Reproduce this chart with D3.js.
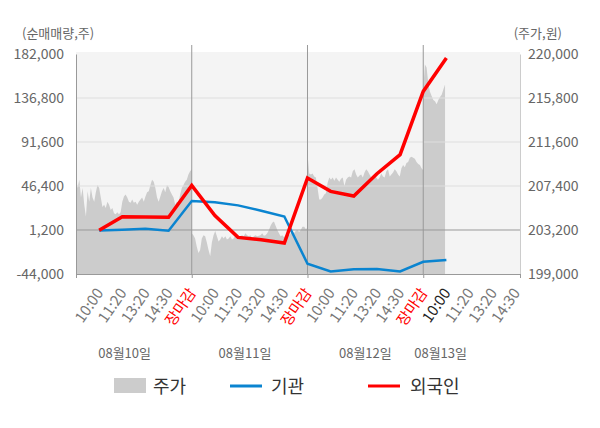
<!DOCTYPE html>
<html>
<head>
<meta charset="utf-8">
<title>순매매량 / 주가</title>
<style>
  body, html { margin: 0; padding: 0; background: #fff; }
  text { font-family: "Noto Sans CJK KR", "Noto Sans", sans-serif; }
</style>
</head>
<body>
<svg id="svg" width="600" height="428"></svg>

<script src="https://d3js.org/d3.v7.min.js"></script>
<script>
  // ---- data ----
  const dayNames = ['08월10일', '08월11일', '08월12일', '08월13일']
  const dayTimes = [
    ['10:00', '11:20', '13:20', '14:30', '장마감'],
    ['10:00', '11:20', '13:20', '14:30', '장마감'],
    ['10:00', '11:20', '13:20', '14:30', '장마감'],
    ['10:00', '11:20', '13:20', '14:30']
  ]
  // where the date captions sit, in time slots
  const dayLabelSlots = [2.1, 7.3, 12.5, 15.75]

  // net buying (주), one value per time slot 1..16
  const flowSlots = [1, 2, 3, 4, 5, 6, 7, 8, 9, 10, 11, 12, 13, 14, 15, 16]
  const institution = [700, 1500, 2500, 500, 31000, 29800, 26500, 21000, 15000,
    -33400, -41300, -39000, -38800, -41300, -31500, -29500]
  const foreign = [900, 14800, 14600, 14300, 47000, 16000, -6400, -8800, -12200,
    54600, 40900, 36100, 59000, 78600, 143600, 177900]

  // share price (원), sampled through each trading day
  const priceDay1 = [208200, 207200, 208000, 206300, 207200, 205600, 204500, 206900, 205900, 207200,
    206300, 205900, 206800, 207500, 207200, 206300, 205400, 205600, 205300, 205900,
    205600, 205100, 205300, 204800, 204700, 204900, 204700, 204900, 205900, 206400,
    206600, 206300, 205900, 205800, 206100, 205800, 205900, 205600, 205900, 206100,
    206300, 205900, 206400, 206800, 206900, 207500, 208000, 207800, 207200, 206300,
    205900, 206400, 206900, 207200, 206800, 207500, 207300, 206900, 206600, 206300,
    205600, 205900, 205800, 206600, 207200, 207500, 207800, 208000, 208500, 208800, 209000]
  const priceDay2 = [202900, 202700, 202400, 201600, 201000, 201300, 202400, 202700, 202600, 202000,
    201300, 200700, 202000, 202700, 203100, 202600, 202100, 202300, 202600, 202400,
    202600, 202300, 202400, 202600, 202300, 202400, 202700, 202600, 202400, 202600,
    202700, 202600, 202900, 202700, 202600, 202700, 202400, 202600, 202700, 202600,
    202650, 202700, 202900, 202650, 202700, 202900, 203200, 203600, 203900, 204000,
    203600, 203200, 202900, 202600, 202700, 202500, 202700, 202900, 202700, 202900,
    203100, 202900, 203100, 203200, 203000, 203200, 203500, 203500, 203300, 203400]
  const priceDay3 = [210500, 208600, 208500, 208600, 208300, 208200, 207200, 206100, 206100, 206300,
    206600, 206700, 207700, 208200, 208000, 208200, 207900, 208200, 208000, 207800,
    208100, 208200, 207400, 208000, 208200, 208300, 208200, 208800, 209000, 208500,
    208200, 208400, 208500, 208200, 208700, 209000, 208800, 208500, 208200, 208300,
    208500, 208200, 208000, 208200, 208600, 208300, 208200, 208800, 209000, 208300,
    208500, 208700, 209000, 208800, 208500, 208300, 209100, 209400, 209200, 209600,
    209700, 210100, 210200, 210100, 210000, 209700, 209500, 209400, 209100, 208900]
  const priceDay4 = [216600, 219000, 218700, 217200, 216400, 216000, 215600, 215500, 215200, 215600,
    215900, 216100, 216600, 217100]
  const priceDays = [priceDay1, priceDay2, priceDay3, priceDay4]

  const leftTicks = [-44000, 1200, 46400, 91600, 136800, 182000]
  const rightTicks = [199000, 203200, 207400, 211600, 215800, 220000]

  // ---- layout ----
  const plotLeft = 76
  const plotRight = 520
  const plotTop = 54
  const plotBottom = 274
  const slotsPerDay = 5
  const lastSlot = 19.18

  const svg = d3.select('#svg')

  const xscale = d3.scaleLinear().domain([0, lastSlot]).range([plotLeft, plotRight])
  const yflow = d3.scaleLinear().domain([-44000, 182000]).range([plotBottom, plotTop])
  const yprice = d3.scaleLinear().domain([199000, 220000]).range([plotBottom, plotTop])

  // turn each day's samples into (slot, price) points
  const pricePoints = []
  priceDays.forEach((arr, d) => {
    const full = d < priceDays.length - 1
    const step = full ? slotsPerDay / (arr.length - 1) : slotsPerDay / 69
    arr.forEach((p, i) => pricePoints.push({ slot: d * slotsPerDay + i * step, price: p }))
  })

  // plot background
  svg.append('rect')
    .attr('x', plotLeft)
    .attr('y', plotTop - 2)
    .attr('width', plotRight - plotLeft)
    .attr('height', plotBottom - plotTop + 2)
    .attr('fill', '#f4f4f4')

  // price area
  const areagen = d3.area()
    .x(d => xscale(d.slot))
    .y0(yprice(199000))
    .y1(d => yprice(d.price))
  svg.append('path')
    .attr('d', areagen(pricePoints))
    .attr('fill', '#cccccc')

  // grid lines
  svg.append('g')
    .selectAll('line')
    .data(leftTicks.filter(t => t !== leftTicks[0] && t !== leftTicks[leftTicks.length - 1]))
    .join('line')
    .attr('x1', plotLeft)
    .attr('x2', plotRight)
    .attr('y1', d => yflow(d))
    .attr('y2', d => yflow(d))
    .attr('stroke', d => d === 1200 ? '#999' : '#dedede')
    .attr('stroke-width', 1)

  // day separators
  const daySplits = [1, 2, 3].map(d => d * slotsPerDay)
  svg.append('g')
    .selectAll('line')
    .data(daySplits)
    .join('line')
    .attr('x1', d => xscale(d))
    .attr('x2', d => xscale(d))
    .attr('y1', plotTop - 9)
    .attr('y2', plotBottom)
    .attr('stroke', '#999')

  // axes
  const fmt = d => d3.format(',')(d).replace('\u2212', '-')

  const leftAxis = svg.append('g')
    .attr('transform', `translate(${plotLeft}, 0)`)
    .call(d3.axisLeft(yflow).tickValues(leftTicks).tickFormat(fmt).tickSize(0).tickPadding(12))
  leftAxis.select('.domain').attr('stroke', '#999')

  const rightAxis = svg.append('g')
    .attr('transform', `translate(${plotRight}, 0)`)
    .call(d3.axisRight(yprice).tickValues(rightTicks).tickFormat(fmt).tickSize(0).tickPadding(8))
  rightAxis.select('.domain').attr('stroke', '#ccc')

  svg.selectAll('.tick text')
    .attr('font-size', 14)
    .attr('fill', '#666')
    .attr('font-family', '"Noto Sans CJK KR", "Noto Sans", sans-serif')

  const bottomAxis = svg.append('g')
    .attr('transform', `translate(0, ${plotBottom})`)
    .call(d3.axisBottom(xscale).tickValues([0, 5, 10, 15, lastSlot]).tickFormat('').tickSize(4).tickSizeOuter(0))
  bottomAxis.selectAll('line, .domain').attr('stroke', '#999')

  // axis titles
  svg.append('text')
    .attr('x', 22)
    .attr('y', 38)
    .attr('font-size', 13)
    .attr('fill', '#666')
    .text('(순매매량,주)')
  svg.append('text')
    .attr('x', 562)
    .attr('y', 38)
    .attr('text-anchor', 'end')
    .attr('font-size', 13)
    .attr('fill', '#666')
    .text('(주가,원)')

  // lines
  const linegen = d3.line()
    .x(d => xscale(d.slot))
    .y(d => yflow(d.value))
    .curve(d3.curveLinear)

  const instData = flowSlots.map((s, i) => ({ slot: s, value: institution[i] }))
  const foreignData = flowSlots.map((s, i) => ({ slot: s, value: foreign[i] }))

  svg.append('path')
    .attr('d', linegen(instData))
    .attr('fill', 'none')
    .attr('stroke', '#0a84d0')
    .attr('stroke-width', 2.5)

  svg.append('path')
    .attr('d', linegen(foreignData))
    .attr('fill', 'none')
    .attr('stroke', '#ff0000')
    .attr('stroke-width', 3.5)

  // time labels along the bottom
  const nowSlot = flowSlots[flowSlots.length - 1]
  const timeLabels = []
  dayTimes.forEach((times, d) => {
    times.forEach((t, i) => timeLabels.push({ slot: d * slotsPerDay + i + 1, text: t }))
  })
  svg.append('g')
    .selectAll('text')
    .data(timeLabels)
    .join('text')
    .attr('transform', d => `translate(${xscale(d.slot) + 5}, ${plotBottom + 19}) rotate(-55)`)
    .attr('text-anchor', 'end')
    .attr('font-size', 15)
    .attr('fill', d => d.text === '장마감' ? '#ff0000' : (d.slot === nowSlot ? '#222' : '#777'))
    .text(d => d.text)

  // date captions
  svg.append('g')
    .selectAll('text')
    .data(dayNames)
    .join('text')
    .attr('x', (d, i) => xscale(dayLabelSlots[i]))
    .attr('y', 358)
    .attr('text-anchor', 'middle')
    .attr('font-size', 13)
    .attr('fill', '#666')
    .text(d => d)

  // legend
  const legend = svg.append('g').attr('transform', 'translate(0, 386)')
  legend.append('rect')
    .attr('x', 114).attr('y', -8).attr('width', 32).attr('height', 15)
    .attr('fill', '#cccccc')
  legend.append('text')
    .attr('x', 153).attr('y', 6.5).attr('font-size', 18).attr('fill', '#333')
    .text('주가')
  legend.append('line')
    .attr('x1', 230).attr('x2', 262).attr('y1', 0).attr('y2', 0)
    .attr('stroke', '#0a84d0').attr('stroke-width', 3)
  legend.append('text')
    .attr('x', 271).attr('y', 6.5).attr('font-size', 18).attr('fill', '#333')
    .text('기관')
  legend.append('line')
    .attr('x1', 368).attr('x2', 400).attr('y1', 0).attr('y2', 0)
    .attr('stroke', '#ff0000').attr('stroke-width', 3)
  legend.append('text')
    .attr('x', 410).attr('y', 6.5).attr('font-size', 18).attr('fill', '#333')
    .text('외국인')
</script>
</body>
</html>
